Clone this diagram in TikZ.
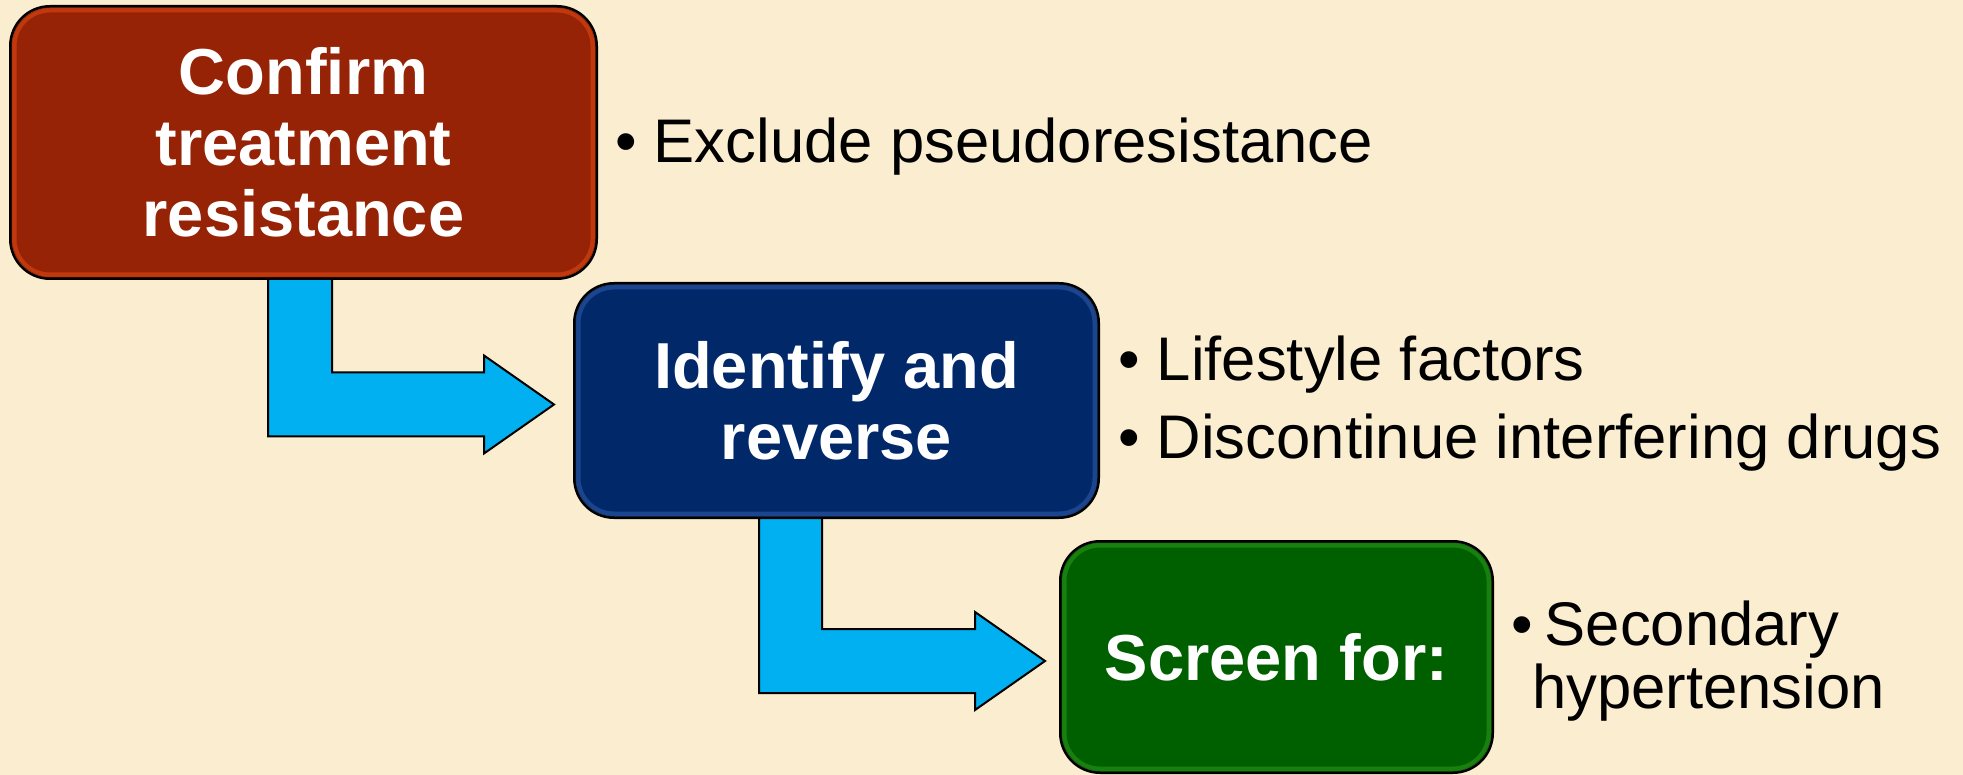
\documentclass[tikz,border=0pt]{standalone}
\usepackage{fontspec}
\setmainfont{Liberation Sans}
\usetikzlibrary{calc}
\definecolor{bg}{RGB}{250,237,208}
\definecolor{redbox}{RGB}{150,35,5}
\definecolor{rededge}{RGB}{222,70,20}
\definecolor{bluebox}{RGB}{1,40,104}
\definecolor{blueedge}{RGB}{45,90,170}
\definecolor{greenbox}{RGB}{0,96,0}
\definecolor{greenedge}{RGB}{40,150,25}
\definecolor{arrowfill}{RGB}{0,176,240}
\begin{document}
\begin{tikzpicture}[x=1pt,y=-1pt,
  stepbox/.style={draw=black, line width=2pt, rounded corners=40pt, inner sep=0pt,
    text=white, align=center, font=\fontsize{65}{71}\selectfont\bfseries},
  bevel/.style={line width=5pt, rounded corners=36pt},
  bentarrow/.style={fill=arrowfill, draw=black, line width=2pt, line join=miter},
  bullettext/.style={anchor=base west, inner sep=0pt, text=black, font=\fontsize{61.6}{78}\selectfont}
]
\fill[bg] (0,0) rectangle (1963,775);
\useasboundingbox (0,0) rectangle (1963,775);

% boxes
\node[stepbox, fill=redbox, minimum width=585pt, minimum height=271pt] (red) at (303.5,142.5)
  {Confirm\\treatment\\resistance};
\node[stepbox, fill=bluebox, minimum width=523pt, minimum height=233pt] (blue) at (836.5,400.5)
  {Identify and\\reverse};
\node[stepbox, fill=greenbox, minimum width=431pt, minimum height=230pt] (green) at (1276.5,657)
  {Screen for:};

% bevel edges
\foreach \b/\c in {red/rededge, blue/blueedge, green/greenedge}{
  \draw[bevel, \c, opacity=0.6] ([shift={(4pt,4pt)}]\b.south west) rectangle ([shift={(-4pt,-4pt)}]\b.north east);
  \draw[draw=black, line width=2pt, rounded corners=40pt] (\b.south west) rectangle (\b.north east);
}

% arrow 1: red -> blue
\coordinate (t1) at ([xshift=-20pt,yshift=-4pt]blue.west);
\coordinate (s1l) at ($(red.south)+(-35.5,0)$);
\coordinate (s1r) at ($(red.south)+(28.5,0)$);
\draw[bentarrow] (s1l) -- (s1r) -- (s1r |- {$(t1)+(0,-32)$}) -- ($(t1)+(-70,-32)$) -- ($(t1)+(-70,-49)$)
  -- (t1) -- ($(t1)+(-70,49)$) -- ($(t1)+(-70,32)$) -- (s1l |- {$(t1)+(0,32)$}) -- cycle;

% arrow 2: blue -> green
\coordinate (t2) at ([xshift=-15pt,yshift=-4pt]green.west);
\coordinate (s2l) at ($(blue.south)+(-77.5,0)$);
\coordinate (s2r) at ($(blue.south)+(-14.5,0)$);
\draw[bentarrow] (s2l) -- (s2r) -- (s2r |- {$(t2)+(0,-32)$}) -- ($(t2)+(-70,-32)$) -- ($(t2)+(-70,-49)$)
  -- (t2) -- ($(t2)+(-70,49)$) -- ($(t2)+(-70,32)$) -- (s2l |- {$(t2)+(0,32)$}) -- cycle;

% bullet texts
\node[bullettext] (b1) at (615,163) {• Exclude pseudoresistance};
\node[bullettext] (b2) at (1118,381) {• Lifestyle factors};
\node[bullettext] (b3) at (1118,459) {• Discontinue interfering drugs};
\node[bullettext] (b4) at (1511,645) {•\hspace{12pt}Secondary};
\node[bullettext] (b5) at (1532,708) {hypertension};
\end{tikzpicture}
\end{document}
